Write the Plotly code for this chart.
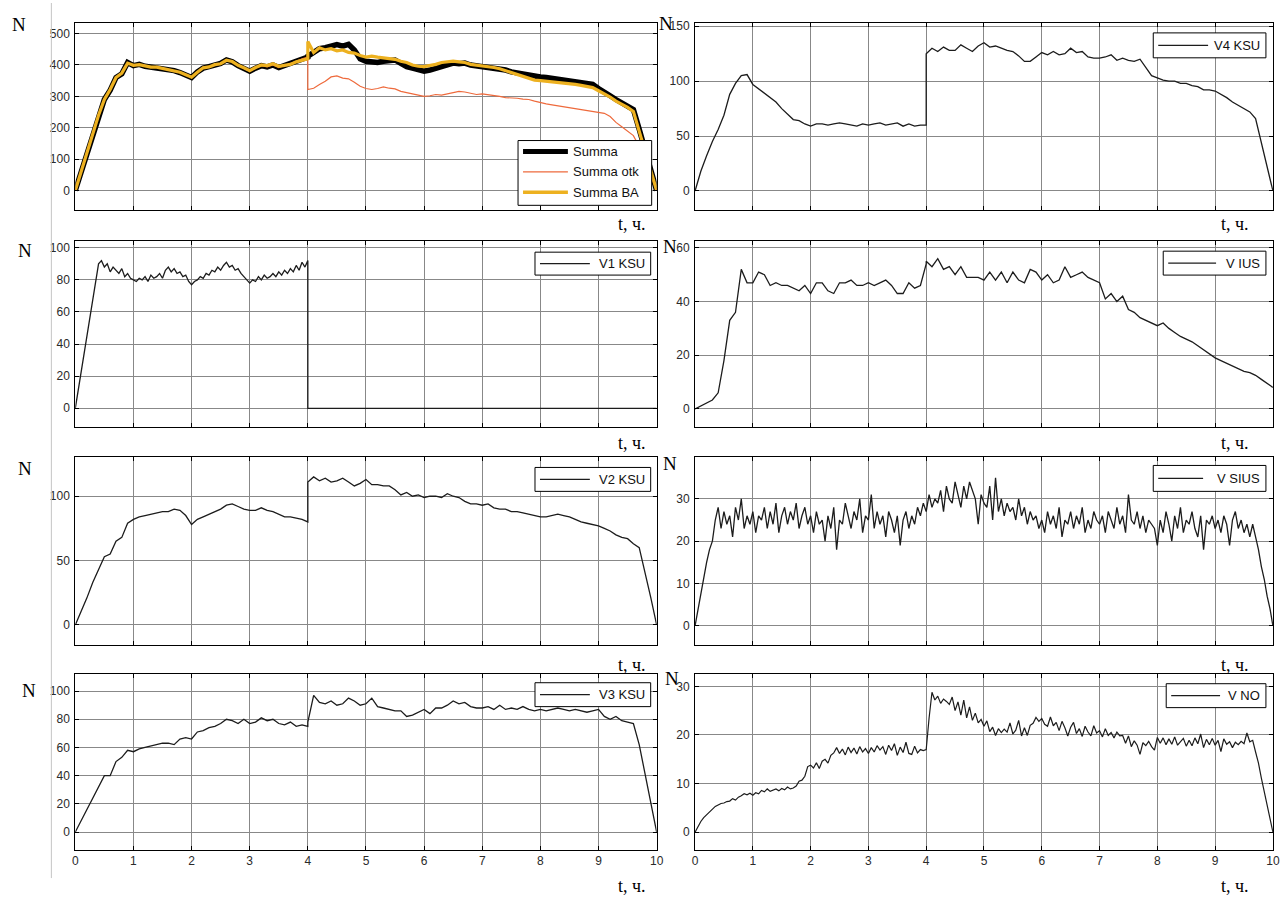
import plotly.graph_objects as go

# ---------------- time bases ----------------
T_C = [round(i * 0.1, 1) for i in range(41)] + [round(4 + i * 0.1, 1) for i in range(61)]  # 4.0 twice (jump)
T_F = [round(i * 0.05, 2) for i in range(201)]
T_V1 = [round(i * 0.05, 2) for i in range(81)] + [4.0, 10.0]

# ---------------- data ----------------
SUMMA = [0, 60, 120, 180, 240, 290, 320, 360, 372, 408,
         398, 402, 396, 394, 392, 390, 384, 382, 376, 368,
         360, 378, 390, 395, 400, 405, 416, 410, 398, 390,
         380, 390, 398, 394, 400, 392, 398, 405, 412, 420,
         425,
         428, 440, 452, 455, 462, 465, 460, 466, 448, 420,
         412, 410, 408, 412, 415, 416, 405, 395, 390, 386,
         380, 384, 390, 396, 402, 406, 404, 406, 400, 398,
         396, 394, 392, 390, 384, 378, 374, 372, 368, 365,
         362, 360, 357, 355, 352, 350, 346, 343, 340, 338,
         325, 315, 302, 290, 280, 270, 258, 195, 130, 65, 0]

SUMMA_OTK = [0, 60, 120, 180, 240, 290, 320, 360, 372, 408,
             398, 402, 396, 394, 392, 390, 384, 382, 376, 368,
             360, 378, 390, 395, 400, 405, 416, 410, 398, 390,
             380, 390, 398, 394, 400, 392, 398, 405, 412, 420,
             425,
             322, 326, 338, 348, 362, 365, 358, 356, 345, 332,
             325, 322, 325, 330, 326, 324, 316, 312, 308, 302,
             300, 302, 306, 304, 308, 312, 316, 314, 310, 306,
             308, 306, 302, 300, 296, 296, 294, 291, 290, 285,
             280, 276, 273, 270, 267, 264, 261, 258, 255, 252,
             248, 246, 236, 217, 203, 190, 175, 140, 95, 48, 0]

SUMMA_BA = [0, 60, 120, 180, 240, 290, 322, 360, 374, 406,
            399, 401, 397, 393, 393, 389, 385, 381, 377, 369,
            361, 377, 391, 394, 401, 404, 415, 411, 399, 391,
            382, 392, 400, 398, 404, 396, 400, 402, 410, 416,
            420,
            475, 440, 455, 448, 452, 445, 448, 440, 438, 430,
            425, 428, 425, 422, 420, 418, 412, 408, 400, 396,
            395, 398, 402, 408, 410, 412, 410, 408, 402, 400,
            398, 396, 392, 388, 382, 375, 368, 362, 356, 352,
            350, 348, 347, 345, 344, 342, 338, 335, 332, 328,
            318, 308, 298, 285, 275, 265, 252, 190, 127, 63, 0]

V4_KSU = [0, 18, 32, 45, 56, 69, 88, 98, 105, 106,
          97, 93, 89, 85, 81, 75, 70, 65, 64, 61,
          59, 61, 61, 60, 61, 62, 61, 60, 59, 61,
          60, 61, 62, 60, 61, 62, 59, 61, 59, 60,
          60,
          125, 130, 127, 131, 128, 128, 133, 130, 127, 132,
          135, 131, 132, 130, 128, 127, 123, 118, 118, 122,
          126, 124, 127, 124, 125, 130, 126, 127, 122, 121,
          121, 122, 124, 119, 121, 119, 118, 120, 113, 105,
          103, 101, 100, 100, 98, 98, 96, 95, 92, 92,
          91, 88, 85, 81, 78, 75, 72, 66, 44, 22, 0]

V1_KSU = [0, 11, 22, 34, 45, 56, 68, 79, 90, 92, 88, 90, 85, 88, 86, 84, 87, 82, 84, 81,
          80, 79, 81, 80, 82, 79, 83, 81, 82, 84, 81, 86, 88, 85, 87, 84, 85, 82, 83, 79,
          77, 79, 80, 82, 81, 84, 83, 86, 85, 88, 86, 89, 91, 88, 89, 86, 87, 84, 82, 80,
          78, 80, 79, 82, 80, 83, 81, 82, 84, 82, 85, 83, 86, 84, 87, 85, 89, 86, 91, 88,
          92,
          0, 0]

V_IUS = [0, 1.1, 2.2, 3.3, 6, 18, 33, 36, 52, 47,
         47, 51, 50, 46, 47, 46, 46, 45, 44, 46,
         43, 47, 47, 44, 43, 47, 47, 48, 46, 46,
         47, 46, 47, 48, 46, 43, 43, 47, 45, 46,
         54,
         55, 53, 56, 52, 53, 50, 53, 49, 49, 49,
         48, 51, 48, 51, 47, 51, 48, 47, 52, 51,
         48, 50, 47, 48, 53, 49, 50, 51, 49, 48,
         47, 41, 43, 40, 42, 37, 36, 34, 33, 32,
         31, 32, 30, 28.5, 27, 26, 25, 23.5, 22, 20.5,
         19, 18, 17, 16, 15, 14, 13.5, 12.5, 11, 9.5, 8]

V2_KSU = [0, 10, 21, 33, 43, 53, 55, 65, 68, 79,
          82, 84, 85, 86, 87, 88, 88, 90, 89, 85,
          78, 82, 84, 86, 88, 90, 93, 94, 92, 90,
          89, 89, 91, 89, 88, 86, 84, 84, 83, 82,
          80,
          111, 115, 112, 114, 111, 112, 114, 111, 108, 110,
          113, 109, 109, 108, 108, 105, 101, 103, 100, 101,
          99, 100, 100, 99, 102, 100, 99, 96, 94, 94,
          93, 94, 91, 90, 90, 88, 88, 87, 86, 85,
          84, 84, 85, 86, 85, 84, 82, 80, 79, 78,
          77, 75, 73, 70, 68, 67, 63, 60, 41, 21, 0]

V_SIUS = [0, 4, 8, 12, 15, 18, 20, 25, 28, 23, 27, 24, 26, 21, 28, 25, 30, 23, 26, 24,
          27, 22, 26, 25, 28, 23, 27, 24, 29, 22, 26, 28, 24, 27, 25, 29, 23, 26, 28, 24,
          26, 22, 27, 24, 25, 20, 26, 23, 28, 18, 25, 24, 29, 26, 23, 27, 25, 30, 22, 26,
          25, 31, 23, 27, 24, 26, 21, 27, 25, 22, 26, 19, 25, 27, 23, 26, 24, 28, 26, 29,
          27, 31, 28, 30, 29, 32, 27, 33, 30, 29, 34, 31, 28, 33, 30, 34, 32, 30, 24, 31,
          29, 28, 33, 25, 35, 27, 30, 26, 29, 27, 28, 25, 30, 26, 28, 24, 27, 25, 26, 23,
          25, 22, 27, 24, 26, 23, 28, 21, 25, 24, 27, 23, 26, 24, 28, 22, 25, 23, 27, 25,
          24, 26, 22, 27, 25, 23, 28, 24, 26, 22, 31, 25, 24, 27, 23, 26, 22, 25, 24, 23,
          19, 25, 22, 27, 24, 20, 26, 23, 28, 22, 25, 24, 27, 23, 21, 26, 18, 25, 24, 26,
          23, 25, 22, 26, 24, 19, 25, 27, 23, 25, 22, 24, 21, 24, 21, 18, 14, 11, 7, 4,
          0]

V3_KSU = [0, 8, 16, 24, 32, 40, 40, 50, 53, 58,
          57, 59, 60, 61, 62, 63, 63, 62, 66, 67,
          66, 71, 72, 74, 75, 77, 80, 79, 77, 80,
          77, 78, 81, 79, 80, 77, 76, 78, 75, 76,
          75,
          78, 97, 92, 91, 93, 90, 91, 95, 93, 90,
          91, 95, 89, 88, 87, 86, 86, 82, 83, 85,
          87, 84, 88, 88, 90, 93, 91, 92, 89, 88,
          88, 89, 87, 90, 87, 88, 87, 89, 87, 86,
          87, 86, 87, 88, 87, 86, 87, 86, 85, 86,
          87, 82, 80, 82, 79, 78, 77, 62, 42, 21, 0]

V_NO = [0, 1.2, 2.2, 3.0, 3.6, 4.2, 4.8, 5.3, 5.6, 5.9, 6.0, 6.3, 6.4, 6.9, 6.6, 7.2, 7.5, 7.9, 7.7, 8.0,
        7.6, 8.1, 7.9, 8.6, 8.3, 8.9, 8.4, 8.7, 8.9, 8.5, 9.0, 8.7, 9.3, 8.9, 9.1, 9.5, 10.5, 10.7, 11.5, 13.5,
        13.8, 13.2, 14.3, 13.1, 14.6, 15.0, 14.2, 15.8, 16.3, 17.4, 16.2, 17.1, 15.9, 17.5, 16.4, 17.3, 16.1, 17.6, 16.5, 17.2,
        16.2, 17.4, 16.5, 17.8, 16.9, 17.6, 16.0, 17.9, 16.8, 18.2, 15.8, 17.5, 16.4, 18.5, 16.2, 16.0, 17.7, 16.3, 17.0, 16.8,
        17.0, 23.5, 28.8, 27.2, 28.0, 26.5, 27.4, 26.9, 26.3, 27.8, 25.0, 26.8, 24.1, 27.2, 23.5, 25.8, 23.0, 24.5, 22.5, 23.2,
        21.8, 22.9, 20.7, 21.6, 19.9, 21.3, 20.5, 21.2, 20.6, 22.5, 20.2, 21.0, 23.0, 19.8, 21.5, 19.9, 22.0, 22.4, 23.6, 22.8,
        23.4, 22.2, 21.8, 23.7, 21.9, 22.6, 20.9, 22.8, 21.5, 19.8, 21.6, 22.6, 20.3, 21.3, 19.7, 21.8, 20.6, 19.8, 21.9, 20.4,
        20.9, 19.6, 21.3, 19.9, 20.5, 19.4, 20.6, 19.8, 19.9, 18.3, 19.8, 17.6, 18.8, 17.9, 16.0, 18.4, 17.8, 18.7, 17.6, 16.9,
        19.5, 18.3, 19.4, 18.0, 19.2, 18.1, 19.6, 17.9, 18.6, 19.3, 17.7, 18.9, 17.8, 19.4, 18.2, 20.2, 17.4, 19.1, 18.0, 19.3,
        17.9, 18.9, 16.6, 19.2, 18.1, 18.6, 17.4, 18.5, 18.0, 18.7, 18.2, 20.4, 18.6, 18.9, 16.5, 14.2, 11.1, 8.2, 5.3, 2.8,
        0]

for name, arr, tb in [("SUMMA", SUMMA, T_C), ("SUMMA_OTK", SUMMA_OTK, T_C), ("SUMMA_BA", SUMMA_BA, T_C),
                      ("V4", V4_KSU, T_C), ("V1", V1_KSU, T_V1), ("VIUS", V_IUS, T_C), ("V2", V2_KSU, T_C),
                      ("VSIUS", V_SIUS, T_F), ("V3", V3_KSU, T_C), ("VNO", V_NO, T_F)]:
    assert len(arr) == len(tb), (name, len(arr), len(tb))

X_TICKS = list(range(0, 11))

# ---------------- layout geometry (page pixels) ----------------
W, H = 1282, 897


def px(x):
    # small horizontal correction measured against the reference
    return ((x - 1.5) / 0.995) / W


def py(y):
    return 1 - y / H


XD = [[px(74), px(657)], [px(695.5), min(1.0, px(1275))]]
ROWS = [(20, 208), (239, 425), (455.5, 644), (673, 849.5)]


def ydom(r):
    top, bot = ROWS[r]
    return [py(bot), py(top)]


# (row, col, yrange, yticks)
PANELS = [
    (0, 0, [-63, 534], [0, 100, 200, 300, 400, 500]),
    (0, 1, [-17.6, 153], [0, 50, 100, 150]),
    (1, 0, [-11.4, 104.1], [0, 20, 40, 60, 80, 100]),
    (1, 1, [-6.6, 62.5], [0, 20, 40, 60]),
    (2, 0, [-15.5, 130.5], [0, 50, 100]),
    (2, 1, [-4.5, 39.9], [0, 10, 20, 30]),
    (3, 0, [-12.5, 112.3], [0, 20, 40, 60, 80, 100]),
    (3, 1, [-3.6, 32.6], [0, 10, 20, 30]),
]

SANS = "Liberation Sans Narrow, Arial Narrow, Liberation Sans, Arial"
TICK_FONT = dict(family=SANS, size=12, color="#2a2a2a")
LEG_FONT = dict(family=SANS, size=13, color="#111111")
GRID = "#888888"
LINE = "#1c1c1c"
ORANGE = "#EE6A3C"
YELLOW = "#EDB120"

fig = go.Figure()

# series: (panel index, x, y, name, color, width)
SERIES = [
    (0, T_C, SUMMA, "Summa", "#000000", 5.5),
    (0, T_C, SUMMA_OTK, "Summa otk", ORANGE, 1.2),
    (0, T_C, SUMMA_BA, "Summa BA", YELLOW, 3.2),
    (1, T_C, V4_KSU, "V4 KSU", LINE, 1.3),
    (2, T_V1, V1_KSU, "V1 KSU", LINE, 1.3),
    (3, T_C, V_IUS, "V IUS", LINE, 1.3),
    (4, T_C, V2_KSU, "V2 KSU", LINE, 1.3),
    (5, T_F, V_SIUS, "V SIUS", LINE, 1.3),
    (6, T_C, V3_KSU, "V3 KSU", LINE, 1.3),
    (7, T_F, V_NO, "V NO", LINE, 1.2),
]

for p, xs, ys, name, color, w in SERIES:
    k = p + 1
    sfx = "" if k == 1 else str(k)
    fig.add_trace(go.Scatter(x=xs, y=ys, mode="lines", name=name,
                             line=dict(color=color, width=w),
                             xaxis="x" + sfx, yaxis="y" + sfx, showlegend=False))

layout = dict(width=W, height=H, autosize=False,
              margin=dict(l=0, r=0, t=0, b=0),
              paper_bgcolor="white", plot_bgcolor="white",
              font=TICK_FONT, showlegend=False)

for i, (r, c, yr, yt) in enumerate(PANELS):
    k = i + 1
    sfx = "" if k == 1 else str(k)
    layout["xaxis" + sfx] = dict(domain=XD[c], range=[0, 10], anchor="y" + sfx,
                                 tickvals=X_TICKS, showticklabels=(r == 3),
                                 ticks="inside", ticklen=4, tickcolor="#000",
                                 showline=True, linecolor="#000", linewidth=1, mirror="ticks",
                                 showgrid=True, gridcolor=GRID, gridwidth=1, zeroline=False,
                                 tickfont=TICK_FONT)
    layout["yaxis" + sfx] = dict(domain=ydom(r), range=yr, anchor="x" + sfx,
                                 tickvals=yt, ticks="inside", ticklen=4, tickcolor="#000",
                                 showline=True, linecolor="#000", linewidth=1, mirror="ticks",
                                 showgrid=True, gridcolor=GRID, gridwidth=1, zeroline=False,
                                 tickfont=TICK_FONT, ticklabelstandoff=2)

fig.update_layout(**layout)

# ---------------- legend boxes (Matlab style) ----------------
# box (x0, x1, y0, y1) px, line sample (x0, x1), entries [(text, color, width, y)], text mode
LEGENDS = [
    ((518, 652, 138, 203), (523, 568), [("Summa", "#000000", 5, 149), ("Summa otk", ORANGE, 1.2, 169.5),
                                        ("Summa BA", YELLOW, 3.5, 190)], "left"),
    ((1155, 1268, 30, 55), (1160, 1210), [("V4 KSU", LINE, 1.3, 42.5)], "right"),
    ((535, 651, 250, 273), (540, 590), [("V1 KSU", LINE, 1.3, 261.5)], "right"),
    ((1165, 1268, 249, 273), (1170, 1218), [("V IUS", LINE, 1.3, 261)], "right"),
    ((535, 651, 466, 490), (540, 590), [("V2 KSU", LINE, 1.3, 478)], "right"),
    ((1155, 1268, 464, 490), (1160, 1205), [("V SIUS", LINE, 1.3, 477)], "right"),
    ((535, 651, 682, 706), (540, 590), [("V3 KSU", LINE, 1.3, 694)], "right"),
    ((1168, 1268, 683, 707), (1173, 1222), [("V NO", LINE, 1.3, 695)], "right"),
]
for (bx0, bx1, by0, by1), (lx0, lx1), entries, mode in LEGENDS:
    fig.add_shape(type="rect", xref="paper", yref="paper", x0=px(bx0), x1=px(bx1), y0=py(by1), y1=py(by0),
                  line=dict(color="#000", width=1), fillcolor="white", layer="above")
    for text, color, w, yy in entries:
        fig.add_shape(type="line", xref="paper", yref="paper", x0=px(lx0), x1=px(lx1), y0=py(yy), y1=py(yy),
                      line=dict(color=color, width=w), layer="above")
        if mode == "left":
            fig.add_annotation(text=text, x=px(lx1 + 3), y=py(yy), xref="paper", yref="paper",
                               showarrow=False, xanchor="left", yanchor="middle", font=LEG_FONT)
        else:
            fig.add_annotation(text=text, x=px(bx1 - 4), y=py(yy), xref="paper", yref="paper",
                               showarrow=False, xanchor="right", yanchor="middle", font=LEG_FONT)

# ---------------- axis-name annotations ----------------
SERIF = "Liberation Serif, Times New Roman, serif"
N_POS = [(18, 22), (666, 21), (24, 248), (670, 244), (24, 467), (670, 462), (28, 690), (672, 678)]
T_POS = [(632, 222), (1237, 222), (632, 441), (1237, 441), (632, 664), (1237, 664), (632, 886), (1237, 886)]
for (x, y) in N_POS:
    fig.add_annotation(text="N", x=px(x), y=py(y), xref="paper", yref="paper",
                       showarrow=False, xanchor="center", yanchor="middle",
                       font=dict(family=SERIF, size=19, color="#000"))
for (x, y) in T_POS:
    fig.add_annotation(text="t, ч.", x=px(x), y=py(y), xref="paper", yref="paper",
                       showarrow=False, xanchor="center", yanchor="middle",
                       font=dict(family=SERIF, size=18, color="#000"))

# thin page border line at left
fig.add_shape(type="line", xref="paper", yref="paper", x0=px(50), x1=px(50), y0=py(878), y1=py(0),
              line=dict(color="#c4c4c4", width=1))

fig.write_html("out.html",
               config={"displayModeBar": False, "responsive": False},
               post_script="document.body.style.margin='0';document.body.style.overflow='hidden';")
